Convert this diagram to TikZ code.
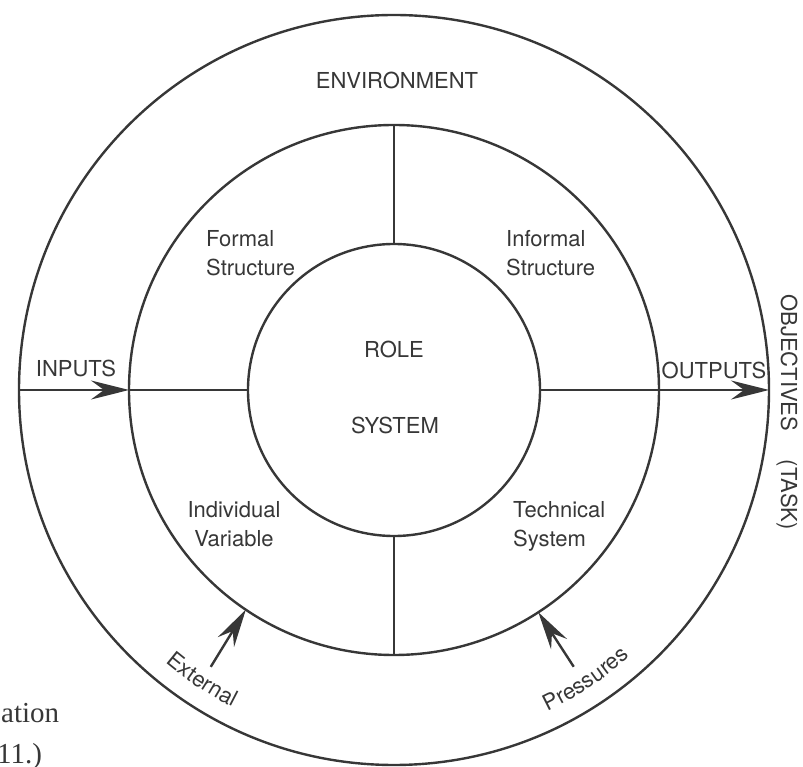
\documentclass[tikz,border=0pt]{standalone}
\usepackage{fontspec}
\setmainfont{TeX Gyre Heros}
\newfontfamily\capfont{Liberation Serif}
\usepackage{tikz}
\usetikzlibrary{arrows.meta,decorations.text}
\definecolor{ink}{RGB}{55,55,55}
\newcommand{\lblfont}{\fontsize{22}{29}\selectfont}

\begin{document}
\begin{tikzpicture}[x=1pt,y=1pt,line width=2.4pt,color=ink]
	\tikzstyle{ring}=[circle,draw,outer sep=0pt,inner sep=0pt]
	\tikzstyle{lbl}=[inner sep=0pt,font=\lblfont]
	\tikzstyle{push}=[-{Stealth[length=38pt,width=19pt,inset=13pt]}]
	\useasboundingbox (-394,-377) rectangle (409,390);
	\node[ring,minimum size=750pt](outer) at (0,0) {};
	\node[ring,minimum size=530pt](middle) at (0,0) {};
	\node[ring,minimum size=292pt](inner) at (0,0) {};
	\draw (middle.north) -- (inner.north);
	\draw (inner.south) -- (middle.south);
	\draw (middle.west) -- (inner.west);
	\draw[push] (outer.west) -- (middle.west);
	\draw[push] (inner.east) -- (outer.east);
	\coordinate (ext) at (236.5:332);
	\coordinate (prs) at (303:330);
	\draw[push] (ext) -- (middle.236.5);
	\draw[push] (prs) -- (middle.303);
	% labels
	\node[lbl](env) at (3,310) {ENVIRONMENT};
	\node[lbl,align=left,anchor=west](formal) at (-189,137) {Formal\\Structure};
	\node[lbl,align=left,anchor=west](informal) at (111,137) {Informal\\Structure};
	\node[lbl](role) at (0,41) {ROLE};
	\node[lbl](system) at (1,-35) {SYSTEM};
	\node[lbl,align=center](indiv) at (-160,-134) {Individual\\Variable};
	\node[lbl,align=left,anchor=west](tech) at (118,-136) {Technical\\System};
	\node[lbl](inputs) at (-318,22) {INPUTS};
	\node[lbl](outputs) at (320,20) {OUTPUTS};
	\node[lbl,rotate=-90](obj) at (393,-22) {OBJECTIVES\hspace{1.3em}(TASK)};
	\path[decorate,decoration={text along path,text align=center,
		text={|\color{ink}\lblfont|External}}] (221:356) arc[start angle=221,end angle=252,radius=356];
	\path[decorate,decoration={text along path,text align=center,
		text={|\color{ink}\lblfont|Pressures}}] (288:356) arc[start angle=288,end angle=319,radius=356];
	% cut caption at the page edge
	\node[anchor=base west,inner sep=0pt,font=\capfont\fontsize{29}{29}\selectfont](cap1) at (-394,-332) {ation};
	\node[anchor=base west,inner sep=0pt,font=\capfont\fontsize{29}{29}\selectfont](cap2) at (-398,-373) {11.)};
\end{tikzpicture}
\end{document}
